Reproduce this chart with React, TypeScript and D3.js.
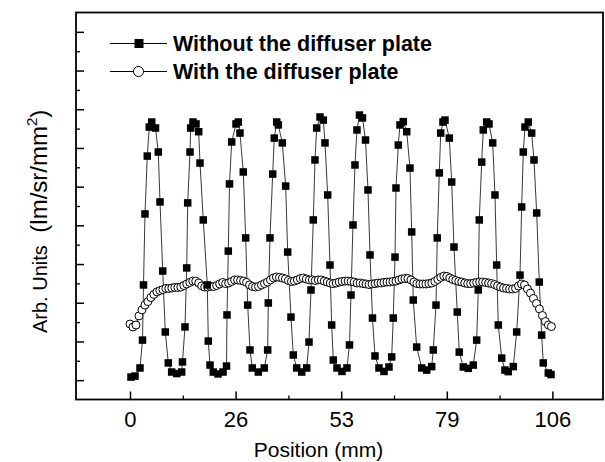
import React, { useEffect, useRef } from "react";
import * as d3 from "d3";

// Without the diffuser plate (filled squares): position (mm) / value (arb.)
const withoutPos = [
  0.25, 1.25, 2.51, 3.14, 3.39, 3.76, 4.34, 4.84, 5.45, 6.4, 7.1, 7.53, 8.21, 8.86, 9.61, 10.46, 11.72, 12.97,
  13.17, 13.8, 14.23, 14.48, 15.06, 15.23, 15.81, 16.56, 17.24, 17.57, 18.39, 19.4, 19.65, 20.08, 20.9, 22.08, 23.34,
  24.22, 24.34, 24.67, 24.97, 25.52, 26.6, 27.18, 27.6, 28.43, 29.03, 29.54, 30.11, 30.69, 32.2, 33.7,
  34.55, 34.71, 35.13, 35.81, 36.21, 36.81, 37.22, 38.22, 39.07, 39.57, 40.4, 40.98, 41.83, 43.09, 44.34,
  44.92, 45.42, 46.0, 46.42, 46.85, 47.68, 48.51, 48.93, 49.61, 50.19, 50.61, 51.02, 51.94, 53.2, 54.45,
  55.08, 55.46, 55.96, 56.46, 56.96, 57.59, 58.34, 59.1, 59.72, 60.23, 60.85, 61.48, 62.48, 63.74, 64.99,
  65.67, 66.07, 66.5, 66.75, 67.33, 67.75, 68.58, 69.44, 70.26, 70.69, 71.09, 71.94, 73.2, 74.45, 75.71,
  76.11, 76.79, 77.11, 77.62, 77.97, 78.54, 79.05, 80.13, 80.73, 81.3, 82.13, 82.63, 83.64, 84.89, 86.15,
  87.0, 87.4, 87.65, 88.26, 88.66, 89.51, 90.09, 91.02, 91.59, 92.02, 92.42, 93.28, 94.1, 94.93, 96.19,
  97.04, 97.87, 98.29, 98.7, 99.12, 99.95, 100.8, 101.38, 102.06, 102.71, 103.31, 103.71, 104.97, 105.65,
];
const withoutVal = [
  1.16, 1.21, 1.63, 3.07, 5.92, 9.59, 12.58, 14.08, 14.34, 14.03, 12.79, 10.21, 6.64, 3.49, 1.89, 1.42, 1.34, 1.42,
  1.94, 3.75, 6.8, 10.16, 12.79, 14.03, 14.34, 14.24, 13.84, 12.22, 9.28, 5.92, 3.02, 1.78, 1.42, 1.32, 1.42,
  1.73, 4.37, 7.67, 11.14, 13.31, 14.24, 14.34, 13.77, 11.76, 8.35, 4.88, 2.56, 1.63, 1.42, 1.63,
  2.56, 4.99, 8.35, 11.65, 13.51, 14.34, 14.19, 13.26, 11.03, 7.62, 4.26, 2.3, 1.63, 1.42, 1.63,
  2.97, 5.66, 9.28, 12.38, 14.03, 14.6, 14.44, 13.26, 10.57, 6.95, 3.85, 2.04, 1.63, 1.45, 1.63,
  2.82, 5.4, 9.02, 12.12, 13.93, 14.7, 14.55, 13.41, 10.83, 7.47, 4.21, 2.25, 1.63, 1.45, 1.68,
  2.2, 4.21, 7.36, 10.93, 13.15, 14.19, 14.36, 13.84, 11.96, 8.66, 5.14, 2.71, 1.63, 1.52, 1.7,
  2.56, 4.88, 8.35, 11.71, 13.77, 14.34, 14.44, 13.51, 11.24, 7.88, 4.52, 2.45, 1.68, 1.61, 1.78,
  3.07, 5.66, 9.28, 12.27, 13.93, 14.34, 14.24, 13.26, 10.57, 6.95, 3.85, 2.14, 1.52, 1.44, 1.7,
  3.49, 6.43, 9.95, 12.79, 14.08, 14.34, 13.77, 12.38, 9.64, 6.07, 3.33, 1.89, 1.37, 1.29,
];

// With the diffuser plate (open circles)
const withPos = [
  0, 0.75, 1.5, 2.25, 3, 3.75, 4.5, 5.25, 6, 6.75, 7.5, 8.25, 9, 9.75, 10.5, 11.25, 12, 12.75, 13.5, 14.25,
  15, 15.75, 16.5, 17.25, 18, 18.75, 19.5, 20.25, 21, 21.75, 22.5, 23.25, 24, 24.75, 25.5, 26.25, 27, 27.75, 28.5, 29.25,
  30, 30.75, 31.5, 32.25, 33, 33.75, 34.5, 35.25, 36, 36.75, 37.5, 38.25, 39, 39.75, 40.5, 41.25, 42, 42.75, 43.5, 44.25,
  45, 45.75, 46.5, 47.25, 48, 48.75, 49.5, 50.25, 51, 51.75, 52.5, 53.25, 54, 54.75, 55.5, 56.25, 57, 57.75, 58.5, 59.25,
  60, 60.75, 61.5, 62.25, 63, 63.75, 64.5, 65.25, 66, 66.75, 67.5, 68.25, 69, 69.75, 70.5, 71.25, 72, 72.75, 73.5, 74.25,
  75, 75.75, 76.5, 77.25, 78, 78.75, 79.5, 80.25, 81, 81.75, 82.5, 83.25, 84, 84.75, 85.5, 86.25, 87, 87.75, 88.5, 89.25,
  90, 90.75, 91.5, 92.25, 93, 93.75, 94.5, 95.25, 96, 96.75, 97.5, 98.25, 99, 99.75, 100.5, 101.25, 102, 102.75, 103.5, 104.25,
  105, 105.75,
];
const withVal = [
  3.9, 3.75, 3.85, 4.32, 4.63, 4.88, 5.06, 5.27, 5.43, 5.56,
  5.63, 5.68, 5.74, 5.74, 5.76, 5.79, 5.79, 5.81, 5.89, 5.97,
  6.05, 6.12, 6.12, 6.02, 5.87, 5.81, 5.81, 5.84, 5.84, 5.89,
  5.97, 6.05, 5.99, 6.02, 6.1, 6.18, 6.18, 6.15, 6.12, 6.05,
  5.92, 5.84, 5.81, 5.84, 5.92, 5.99, 6.07, 6.18, 6.28, 6.33,
  6.31, 6.28, 6.23, 6.15, 6.1, 6.12, 6.18, 6.25, 6.28, 6.23,
  6.18, 6.18, 6.15, 6.18, 6.18, 6.12, 6.07, 6.02, 5.99, 6.02,
  6.07, 6.1, 6.12, 6.12, 6.1, 6.07, 6.02, 6.02, 5.99, 5.97,
  5.94, 5.97, 5.99, 6.02, 6.02, 6.05, 6.07, 6.07, 6.1, 6.12,
  6.18, 6.23, 6.25, 6.25, 6.18, 6.07, 5.99, 5.97, 5.97, 5.97,
  5.99, 6.02, 6.1, 6.2, 6.31, 6.38, 6.36, 6.28, 6.2, 6.15,
  6.1, 6.07, 6.02, 5.99, 5.99, 6.02, 6.05, 6.07, 6.07, 6.05,
  6.02, 5.99, 5.94, 5.87, 5.81, 5.76, 5.74, 5.71, 5.71, 5.74,
  5.87, 5.97, 5.92, 5.71, 5.5, 5.22, 4.96, 4.68, 4.34, 4.03,
  3.85, 3.77,
];

const seriesNames = ["Without the diffuser plate", "With the diffuser plate"];
const xMajorTicks = [0, 26.5, 53, 79.5, 106];
const xTickLabels = ["0", "26", "53", "79", "106"];
const xMinorTicks = [13.25, 39.75, 66.25, 92.75];
const yMajorTicks = [1, 3, 5, 7, 9, 11, 13, 15, 17, 19];
const yMinorTicks = [2, 4, 6, 8, 10, 12, 14, 16, 18];

const FONT = "'Liberation Sans', Arial, Helvetica, sans-serif";

const App = () => {
  const svgRef = useRef<SVGSVGElement>(null);

  useEffect(() => {
    const width = 605;
    const height = 462;
    const left = 76, right = 603, top = 12.5, bottom = 399.5;

    const svg = d3.select(svgRef.current);
    svg.selectAll("*").remove();
    svg.attr("width", width).attr("height", height).style("font-family", FONT);

    const x = d3.scaleLinear().domain([-13.55, 118.7]).range([left, right]);
    const y = d3.scaleLinear().domain([0, 20]).range([bottom, top]);

    const without = d3.zip(withoutPos, withoutVal);
    const withD = d3.zip(withPos, withVal);

    const line = d3
      .line<number[]>()
      .x((d) => x(d[0]))
      .y((d) => y(d[1]));

    // ticks point inward
    const xMaj = svg
      .append("g")
      .attr("transform", `translate(0,${bottom})`)
      .call(
        d3
          .axisBottom(x)
          .tickValues(xMajorTicks)
          .tickSize(-8)
          .tickFormat((d) => xTickLabels[xMajorTicks.indexOf(+d)])
      );
    xMaj.attr("font-family", FONT).attr("font-size", 22);
    xMaj.select(".domain").remove();
    xMaj.selectAll("line").attr("stroke", "#000").attr("stroke-width", 1.5);
    xMaj.selectAll("text").attr("y", 27.5).attr("dy", null).attr("fill", "#000");

    const xMin = svg
      .append("g")
      .attr("transform", `translate(0,${bottom})`)
      .call(d3.axisBottom(x).tickValues(xMinorTicks).tickSize(-4).tickFormat(() => ""));
    xMin.select(".domain").remove();
    xMin.selectAll("line").attr("stroke", "#000").attr("stroke-width", 1.3);

    const yMaj = svg
      .append("g")
      .attr("transform", `translate(${left},0)`)
      .call(d3.axisLeft(y).tickValues(yMajorTicks).tickSize(-8).tickFormat(() => ""));
    yMaj.select(".domain").remove();
    yMaj.selectAll("line").attr("stroke", "#000").attr("stroke-width", 1.5);

    const yMin = svg
      .append("g")
      .attr("transform", `translate(${left},0)`)
      .call(d3.axisLeft(y).tickValues(yMinorTicks).tickSize(-4).tickFormat(() => ""));
    yMin.select(".domain").remove();
    yMin.selectAll("line").attr("stroke", "#000").attr("stroke-width", 1.3);

    // frame
    svg
      .append("rect")
      .attr("x", left)
      .attr("y", top)
      .attr("width", right - left)
      .attr("height", bottom - top)
      .attr("fill", "none")
      .attr("stroke", "#000")
      .attr("stroke-width", 1.8);

    // lines
    svg
      .append("path")
      .datum(without)
      .attr("d", line)
      .attr("fill", "none")
      .attr("stroke", "#222")
      .attr("stroke-width", 0.9);

    svg
      .append("path")
      .datum(withD)
      .attr("d", line)
      .attr("fill", "none")
      .attr("stroke", "#222")
      .attr("stroke-width", 0.9);

    svg
      .append("g")
      .selectAll("circle")
      .data(withD)
      .join("circle")
      .attr("cx", (d) => x(d[0]))
      .attr("cy", (d) => y(d[1]))
      .attr("r", 4)
      .attr("fill", "#fff")
      .attr("stroke", "#000")
      .attr("stroke-width", 1);

    const sq = 7.5;
    svg
      .append("g")
      .selectAll("rect")
      .data(without)
      .join("rect")
      .attr("x", (d) => x(d[0]) - sq / 2)
      .attr("y", (d) => y(d[1]) - sq / 2)
      .attr("width", sq)
      .attr("height", sq)
      .attr("fill", "#000");

    // legend
    const leg = svg.append("g");
    const rows = [43.5, 71.5];
    rows.forEach((ry, i) => {
      leg
        .append("line")
        .attr("x1", 110)
        .attr("x2", 167)
        .attr("y1", ry)
        .attr("y2", ry)
        .attr("stroke", "#000")
        .attr("stroke-width", 1);
      if (i === 0) {
        leg
          .append("rect")
          .attr("x", 139 - 4.5)
          .attr("y", ry - 4.5)
          .attr("width", 9)
          .attr("height", 9)
          .attr("fill", "#000");
      } else {
        leg
          .append("circle")
          .attr("cx", 138.5)
          .attr("cy", ry)
          .attr("r", 5)
          .attr("fill", "#fff")
          .attr("stroke", "#000")
          .attr("stroke-width", 1);
      }
      leg
        .append("text")
        .attr("x", 173)
        .attr("y", ry + 7.5)
        .attr("font-size", 21.5)
        .attr("font-weight", "bold")
        .attr("fill", "#000")
        .text(seriesNames[i]);
    });

    // axis titles
    svg
      .append("text")
      .attr("x", 318.5)
      .attr("y", 457)
      .attr("text-anchor", "middle")
      .attr("font-size", 21)
      .attr("fill", "#000")
      .text("Position (mm)");

    const yt = svg
      .append("text")
      .attr("transform", "rotate(-90)")
      .attr("x", -333)
      .attr("y", 46.5)
      .attr("fill", "#000")
      .style("white-space", "pre");
    yt.append("tspan").attr("font-size", 20).text("Arb. Units ");
    yt.append("tspan").attr("font-size", 24).attr("dx", 7).text("(lm/sr/mm");
    yt.append("tspan").attr("font-size", 15).attr("dy", -10).text("2");
    yt.append("tspan").attr("font-size", 24).attr("dy", 10).text(")");
  }, []);

  return <svg ref={svgRef} style={{ position: "absolute", left: 0, top: 0, display: "block" }}></svg>;
};

export default App;
